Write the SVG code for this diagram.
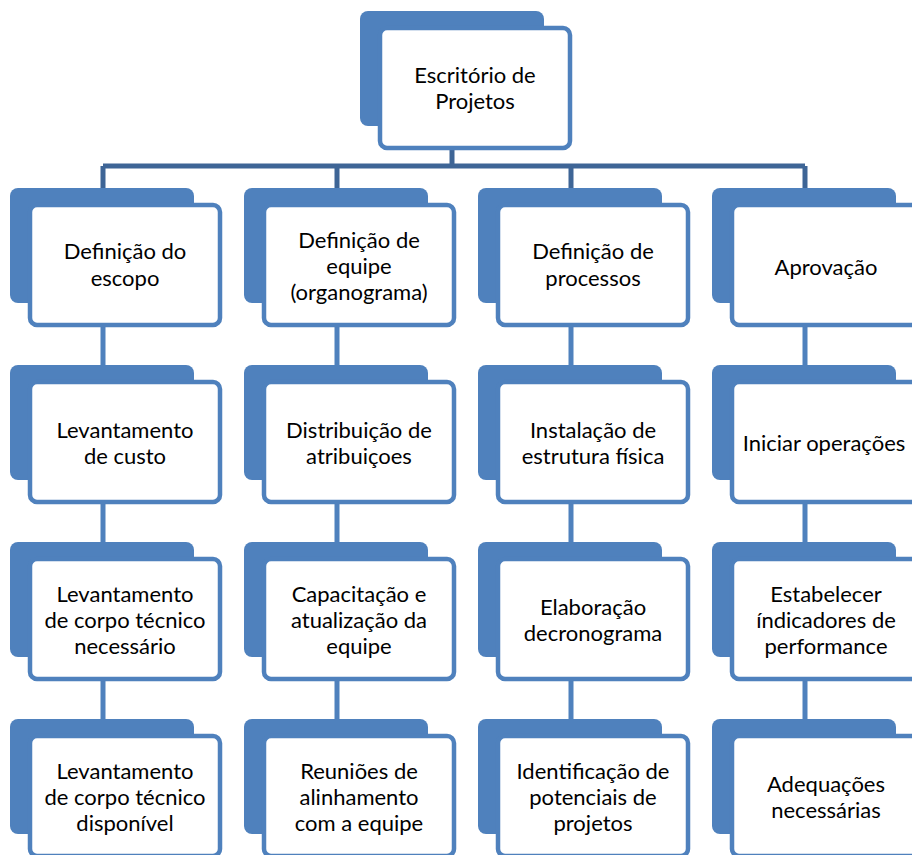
<svg xmlns="http://www.w3.org/2000/svg" width="912" height="855" viewBox="0 0 912 855">
<style>
.bk{fill:#4f81bd;}
.fr{fill:#ffffff;stroke:#4f81bd;stroke-width:4.5;}
.tx{font-family:Lato,"Open Sans","Liberation Sans",sans-serif;font-size:22px;fill:#000;text-anchor:middle;}
.c1{stroke:#3e6596;stroke-width:5;fill:none;}
.c2{stroke:#4f81bd;stroke-width:5;fill:none;}
</style>
<rect width="912" height="855" fill="#ffffff"/>
<g id="connectors">
<path class="c1" d="M452 150V166M103 166H805M103 166V188M337 166V188M571 166V188M805 166V188"/>
<path class="c2" d="M103 327V365M103 504V542M103 681V719M337 327V365M337 504V542M337 681V719M571 327V365M571 504V542M571 681V719M805 327V365M805 504V542M805 681V719"/>
</g>
<g id="n0"><rect class="bk" x="360" y="11" width="184" height="115" rx="8"/><rect class="fr" x="380" y="28" width="190" height="120" rx="7"/><text class="tx" x="475" y="83">Escritório de</text><text class="tx" x="475" y="109">Projetos</text></g>

<g id="n1"><rect class="bk" x="10" y="188" width="184" height="115" rx="8"/><rect class="fr" x="30" y="205" width="190" height="120" rx="7"/><text class="tx" x="125" y="259">Definição do</text><text class="tx" x="125" y="286">escopo</text></g>
<g id="n2"><rect class="bk" x="244" y="188" width="184" height="115" rx="8"/><rect class="fr" x="264" y="205" width="190" height="120" rx="7"/><text class="tx" x="359" y="248">Definição de</text><text class="tx" x="359" y="274">equipe</text><text class="tx" x="359" y="300">(organograma)</text></g>
<g id="n3"><rect class="bk" x="478" y="188" width="184" height="115" rx="8"/><rect class="fr" x="498" y="205" width="190" height="120" rx="7"/><text class="tx" x="593" y="259">Definição de</text><text class="tx" x="593" y="286">processos</text></g>
<g id="n4"><rect class="bk" x="712" y="188" width="184" height="115" rx="8"/><rect class="fr" x="732" y="205" width="190" height="120" rx="7"/><text class="tx" x="826" y="275">Aprovação</text></g>

<g id="n5"><rect class="bk" x="10" y="365" width="184" height="115" rx="8"/><rect class="fr" x="30" y="382" width="190" height="120" rx="7"/><text class="tx" x="125" y="438">Levantamento</text><text class="tx" x="125" y="464">de custo</text></g>
<g id="n6"><rect class="bk" x="244" y="365" width="184" height="115" rx="8"/><rect class="fr" x="264" y="382" width="190" height="120" rx="7"/><text class="tx" x="359" y="438">Distribuição de</text><text class="tx" x="359" y="464">atribuiçoes</text></g>
<g id="n7"><rect class="bk" x="478" y="365" width="184" height="115" rx="8"/><rect class="fr" x="498" y="382" width="190" height="120" rx="7"/><text class="tx" x="593" y="438">Instalação de</text><text class="tx" x="593" y="464">estrutura física</text></g>
<g id="n8"><rect class="bk" x="712" y="365" width="184" height="115" rx="8"/><rect class="fr" x="732" y="382" width="190" height="120" rx="7"/><text class="tx" x="824" y="451">Iniciar operações</text></g>

<g id="n9"><rect class="bk" x="10" y="542" width="184" height="115" rx="8"/><rect class="fr" x="30" y="559" width="190" height="120" rx="7"/><text class="tx" x="125" y="602">Levantamento</text><text class="tx" x="125" y="628">de corpo técnico</text><text class="tx" x="125" y="654">necessário</text></g>
<g id="n10"><rect class="bk" x="244" y="542" width="184" height="115" rx="8"/><rect class="fr" x="264" y="559" width="190" height="120" rx="7"/><text class="tx" x="359" y="602">Capacitação e</text><text class="tx" x="359" y="628">atualização da</text><text class="tx" x="359" y="654">equipe</text></g>
<g id="n11"><rect class="bk" x="478" y="542" width="184" height="115" rx="8"/><rect class="fr" x="498" y="559" width="190" height="120" rx="7"/><text class="tx" x="593" y="615">Elaboração</text><text class="tx" x="593" y="641">decronograma</text></g>
<g id="n12"><rect class="bk" x="712" y="542" width="184" height="115" rx="8"/><rect class="fr" x="732" y="559" width="190" height="120" rx="7"/><text class="tx" x="826" y="602">Estabelecer</text><text class="tx" x="826" y="628">índicadores de</text><text class="tx" x="826" y="654">performance</text></g>

<g id="n13"><rect class="bk" x="10" y="719" width="184" height="115" rx="8"/><rect class="fr" x="30" y="736" width="190" height="120" rx="7"/><text class="tx" x="125" y="779">Levantamento</text><text class="tx" x="125" y="805">de corpo técnico</text><text class="tx" x="125" y="831">disponível</text></g>
<g id="n14"><rect class="bk" x="244" y="719" width="184" height="115" rx="8"/><rect class="fr" x="264" y="736" width="190" height="120" rx="7"/><text class="tx" x="359" y="779">Reuniões de</text><text class="tx" x="359" y="805">alinhamento</text><text class="tx" x="359" y="831">com a equipe</text></g>
<g id="n15"><rect class="bk" x="478" y="719" width="184" height="115" rx="8"/><rect class="fr" x="498" y="736" width="190" height="120" rx="7"/><text class="tx" x="593" y="779">Identificação de</text><text class="tx" x="593" y="805">potenciais de</text><text class="tx" x="593" y="831">projetos</text></g>
<g id="n16"><rect class="bk" x="712" y="719" width="184" height="115" rx="8"/><rect class="fr" x="732" y="736" width="190" height="120" rx="7"/><text class="tx" x="826" y="792">Adequações</text><text class="tx" x="826" y="818">necessárias</text></g>
</svg>
